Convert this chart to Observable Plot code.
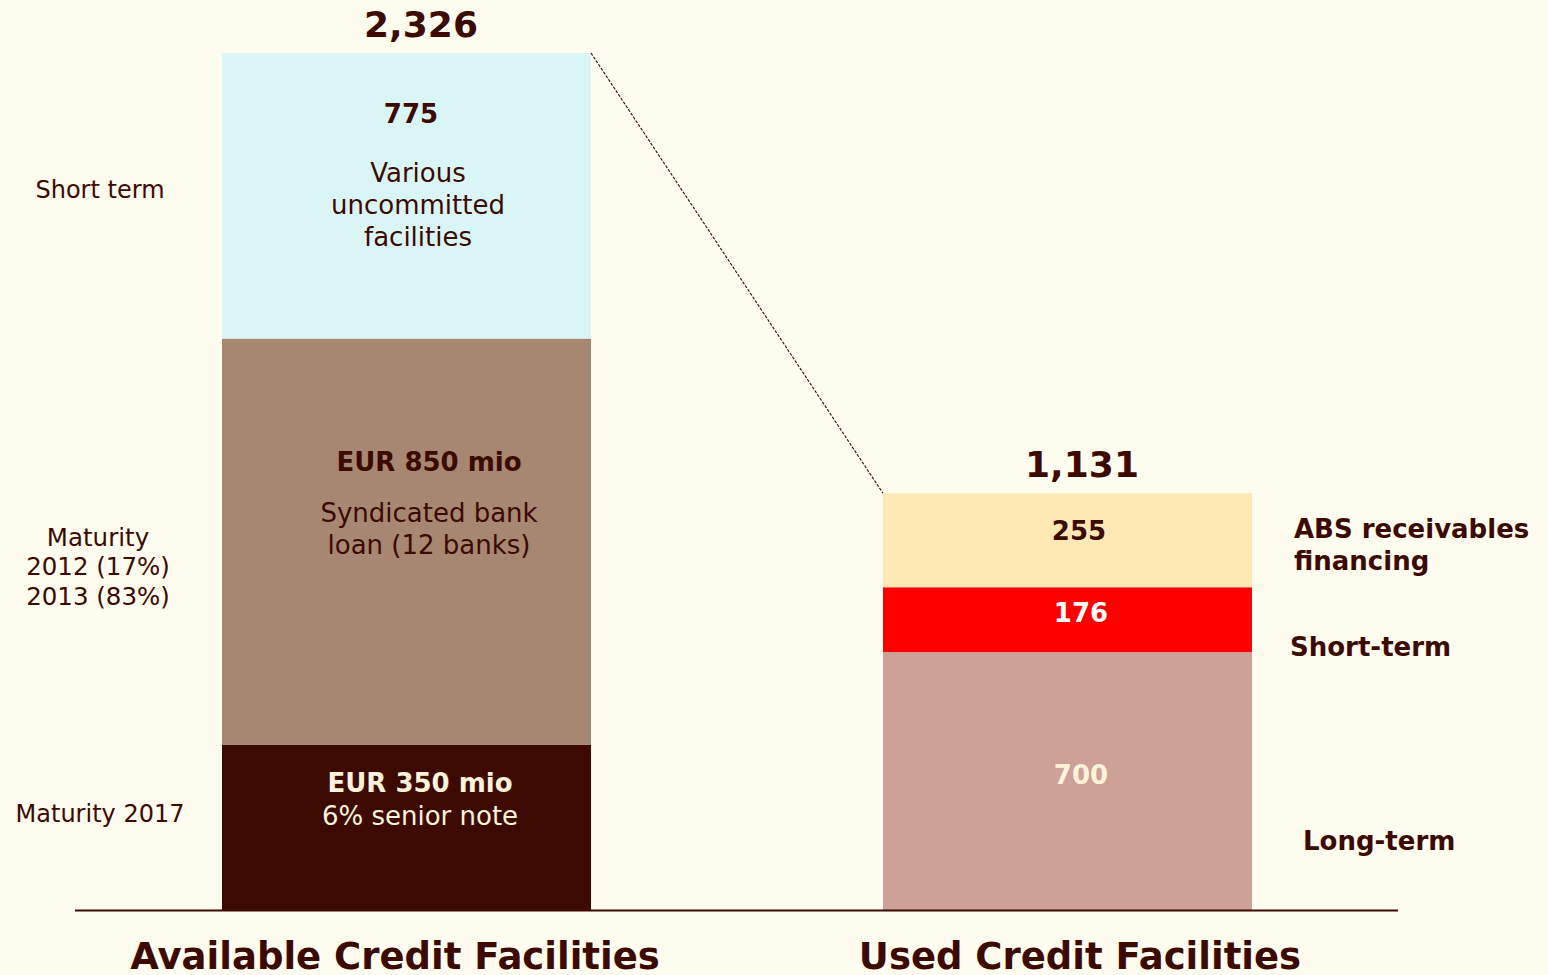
<!DOCTYPE html>
<html><head><meta charset="utf-8">
<script src="https://cdn.jsdelivr.net/npm/d3@7"></script>
<script src="https://cdn.jsdelivr.net/npm/@observablehq/plot@0.6"></script>
<style>
html,body{margin:0;padding:0;background:#fefbef;overflow:hidden;}
</style></head><body><div id="chart"></div>
<script>
const categories = ["Available Credit Facilities", "Used Credit Facilities"];
const totalLabels = ["2,326", "1,131"];
const availSegments = ["Senior note", "Syndicated bank loan", "Uncommitted facilities"];
const availValues = [449, 1102, 775];
const availColors = ["#3c0a00", "#a78672", "#daf5f6"];
const availValueLabels = ["EUR 350 mio", "EUR 850 mio", "775"];
const availNotes = ["6% senior note", "Syndicated bank\nloan (12 banks)", "Various\nuncommitted\nfacilities"];
const availSideLabels = ["Maturity 2017", "Maturity\n2012 (17%)\n2013 (83%)", "Short term"];
const usedSegments = ["Long-term", "Short-term", "ABS receivables financing"];
const usedValues = [700, 176, 255];
const usedColors = ["#cda098", "#ff0000", "#fde8b4"];
const usedValueLabels = ["700", "176", "255"];
const usedSideLabels = ["Long-term", "Short-term", "ABS receivables\nfinancing"];

const INK = "#3c0a00";
const CREAM = "#fdf3da";

function buildRows(cat, segs, vals, cols) {
  let acc = 0;
  return segs.map((s, i) => {
    const r = {cat, seg: s, value: vals[i], color: cols[i], y1: acc, y2: acc + vals[i]};
    acc += vals[i];
    return r;
  });
}
const avail = buildRows(categories[0], availSegments, availValues, availColors);
const used = buildRows(categories[1], usedSegments, usedValues, usedColors);
const rows = avail.concat(used);
const totalsRows = [avail[avail.length - 1], used[used.length - 1]];

function lab(row, text, opts) {
  return Plot.text([row], Object.assign({x: "cat", y: "y2", text: () => text, fill: INK, fontSize: 26}, opts));
}

const A = categories[0], U = categories[1];

const plot = Plot.plot({
  width: 1548,
  height: 975,
  marginLeft: 75,
  marginRight: 150,
  marginTop: 53,
  marginBottom: 65,
  style: {fontFamily: "DejaVu Sans", background: "#fefbef"},
  x: {type: "band", domain: categories, paddingInner: 0.442, paddingOuter: 0.221, axis: null},
  y: {domain: [0, 2326], axis: null},
  color: {type: "identity"},
  marks: [
    Plot.barY(rows, {x: "cat", y1: "y1", y2: "y2", fill: "color"}),
    Plot.ruleY([0], {stroke: INK, strokeWidth: 2}),
    // totals
    Plot.text(totalsRows, {x: "cat", y: "y2", text: (d, i) => totalLabels[i], dx: 14, dy: -28, fontSize: 36, fontWeight: "bold", fill: INK}),
    // category labels
    Plot.text([avail[0]], {x: "cat", y: "y1", text: "cat", dx: -12, dy: 32, lineAnchor: "top", fontSize: 37, fontWeight: "bold", fill: INK}),
    Plot.text([used[0]], {x: "cat", y: "y1", text: "cat", dx: 12, dy: 32, lineAnchor: "top", fontSize: 37, fontWeight: "bold", fill: INK}),
    // available bar labels
    lab(avail[2], availValueLabels[2], {dx: 4, dy: 61, fontWeight: "bold"}),
    lab(avail[2], availNotes[2], {dx: 11, dy: 150, lineHeight: 1.23}),
    lab(avail[1], availValueLabels[1], {dx: 22, dy: 124, fontWeight: "bold"}),
    lab(avail[1], availNotes[1], {dx: 22, dy: 189, lineHeight: 1.23}),
    lab(avail[0], availValueLabels[0], {dx: 13, dy: 39, fontWeight: "bold", fill: CREAM}),
    lab(avail[0], availNotes[0], {dx: 13, dy: 72, fill: CREAM}),
    // available side labels
    lab(avail[2], availSideLabels[2], {dx: -307, dy: 137, fontSize: 24}),
    lab(avail[1], availSideLabels[1], {dx: -309, dy: 227, fontSize: 24.5, lineHeight: 1.2}),
    lab(avail[0], availSideLabels[0], {dx: -307, dy: 69, fontSize: 24}),
    // used bar labels
    lab(used[2], usedValueLabels[2], {dx: 11, dy: 38, fontWeight: "bold"}),
    lab(used[1], usedValueLabels[1], {dx: 13, dy: 26, fontWeight: "bold", fill: "#ffffff"}),
    lab(used[0], usedValueLabels[0], {dx: 13, dy: 123, fontWeight: "bold", fill: CREAM}),
    // used side labels
    lab(used[2], usedSideLabels[2], {dx: 226, dy: 50, fontWeight: "bold", textAnchor: "start", lineHeight: 1.23}),
    lab(used[1], usedSideLabels[1], {dx: 222, dy: 60, fontWeight: "bold", textAnchor: "start"}),
    lab(used[0], usedSideLabels[0], {dx: 235, dy: 189, fontWeight: "bold", textAnchor: "start"})
  ]
});

// dashed connector from the top-right of the first bar to the top-left of the second, via the plot's scales
const xs = plot.scale("x"), ys = plot.scale("y");
const sumA = d3.sum(availValues), sumU = d3.sum(usedValues);
d3.select(plot).append("line")
  .attr("x1", xs.apply(A) + xs.bandwidth).attr("y1", ys.apply(sumA))
  .attr("x2", xs.apply(U)).attr("y2", ys.apply(sumU))
  .attr("stroke", INK).attr("stroke-width", 1.2).attr("stroke-dasharray", "3,1.5");

document.getElementById("chart").appendChild(plot);
</script>
</body></html>
